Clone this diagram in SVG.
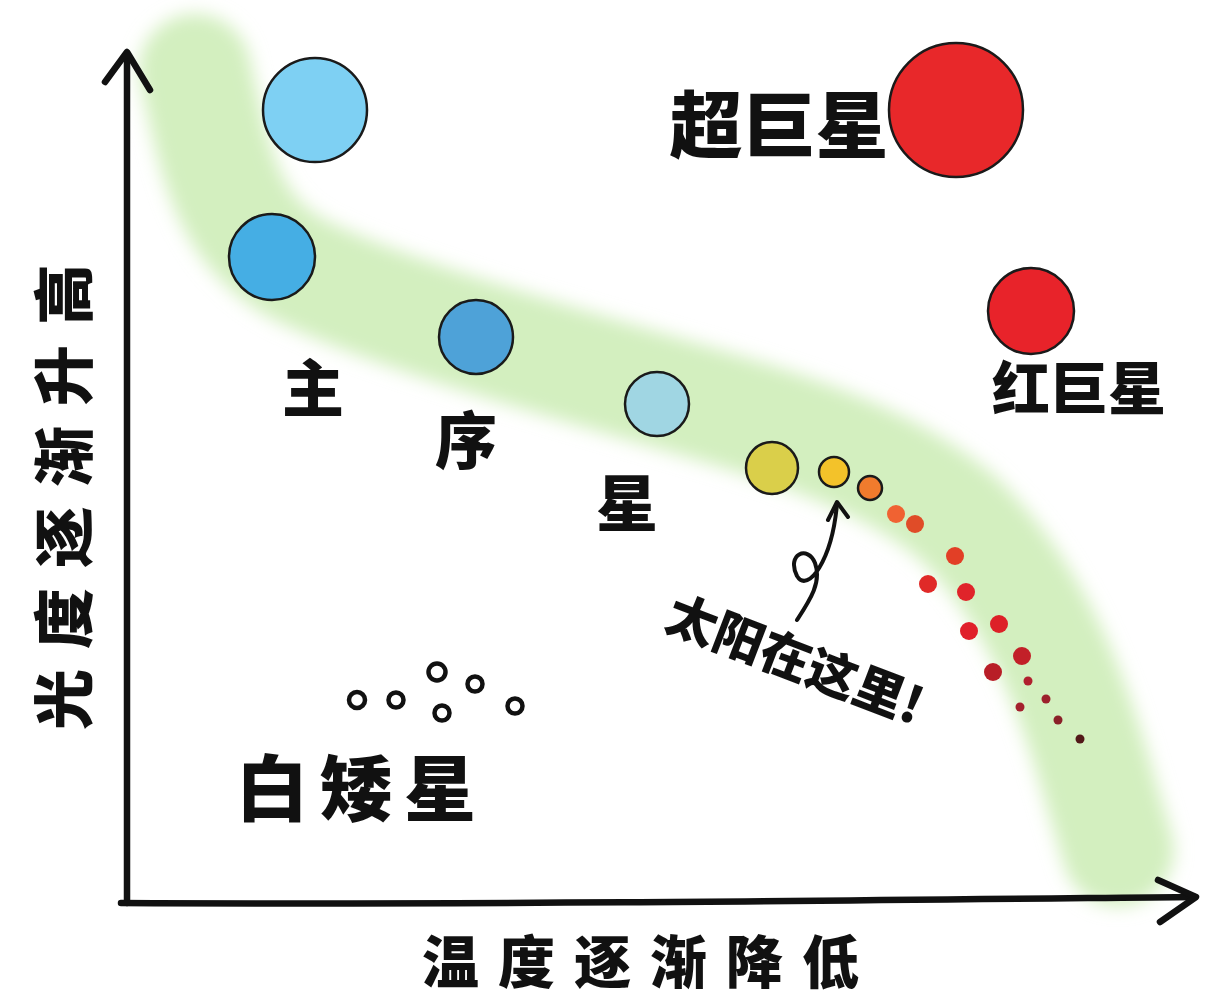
<svg xmlns="http://www.w3.org/2000/svg" width="1229" height="1008" viewBox="0 0 1229 1008">
<style>
.lbl{font-family:"Noto Sans CJK SC","Noto Sans CJK JP",sans-serif;font-weight:900;fill:#111}
.star{stroke:#1a1a1a;stroke-width:2.5}
.wd{fill:none;stroke:#111;stroke-width:4.5}
.ax{fill:none;stroke:#111;stroke-width:6.5;stroke-linecap:round;stroke-linejoin:round}
</style>
<defs>
<filter id="blur" x="-20%" y="-20%" width="140%" height="140%"><feGaussianBlur stdDeviation="9"/></filter>
</defs>
<rect width="1229" height="1008" fill="#fff"/>
<g id="band">
<path d="M195,70 C215,160 225,230 300,270 C380,310 520,350 640,385 C760,420 880,450 960,520 C1040,600 1075,700 1100,790 L1118,850" fill="none" stroke="#d3efbf" stroke-width="112" stroke-linecap="round" filter="url(#blur)"/>
</g>
<g id="connectors">
<path class="ax" d="M127,903 C126,700 128,400 127,54"/>
<path class="ax" d="M105,82 L127,52 L150,90"/>
<path class="ax" d="M121,903 C500,905 900,900 1195,897"/>
<path class="ax" d="M1158,880 L1196,897 L1160,922"/>
<path d="M797,620 C810,600 822,582 815,563 C808,545 786,554 797,576 C808,594 832,560 837,504" fill="none" stroke="#111" stroke-width="4" stroke-linecap="round"/>
<path d="M828,520 L837,502 L848,517" fill="none" stroke="#111" stroke-width="4" stroke-linecap="round" stroke-linejoin="round"/>
</g>
<g id="main-sequence-stars">
<circle class="star" cx="315" cy="110" r="52" fill="#7ed0f3"/>
<circle class="star" cx="272" cy="257" r="43" fill="#45aee4"/>
<circle class="star" cx="476" cy="337" r="37" fill="#4ea2d8"/>
<circle class="star" cx="657" cy="404" r="32" fill="#a0d6e3"/>
<circle class="star" cx="772" cy="468" r="26" fill="#dacf4a"/>
<circle id="sun" class="star" cx="834" cy="472" r="15" fill="#f3c22a"/>
<circle class="star" cx="870" cy="488" r="12" fill="#f07b2d" stroke-width="2"/>
<circle cx="896" cy="514" r="9" fill="#f06232"/>
<circle cx="915" cy="524" r="9" fill="#e04c28"/>
<circle cx="955" cy="556" r="9" fill="#e23f26"/>
<circle cx="928" cy="584" r="9" fill="#e02a28"/>
<circle cx="966" cy="592" r="9" fill="#e0242a"/>
<circle cx="969" cy="631" r="9" fill="#e0202a"/>
<circle cx="999" cy="624" r="9" fill="#dd2027"/>
<circle cx="1022" cy="656" r="9" fill="#c22028"/>
<circle cx="993" cy="672" r="9" fill="#b81e27"/>
<circle cx="1028" cy="681" r="4.5" fill="#b0202e"/>
<circle cx="1020" cy="707" r="4.5" fill="#a4202e"/>
<circle cx="1046" cy="699" r="4.5" fill="#9c202c"/>
<circle cx="1058" cy="720" r="4.5" fill="#8a2028"/>
<circle cx="1080" cy="739" r="4.5" fill="#521818"/>
</g>
<g id="supergiant">
<circle class="star" cx="956" cy="110" r="67" fill="#e8282a"/>
<text class="lbl" x="779" y="152" font-size="73" text-anchor="middle">超巨星</text>
</g>
<g id="red-giant">
<circle class="star" cx="1031" cy="311" r="43" fill="#e8232a"/>
<text class="lbl" x="1079" y="410" font-size="58" text-anchor="middle">红巨星</text>
</g>
<g id="main-sequence-label">
<text class="lbl" x="313" y="412" font-size="62" text-anchor="middle">主</text>
<text class="lbl" x="466" y="464" font-size="62" text-anchor="middle">序</text>
<text class="lbl" x="627" y="527" font-size="62" text-anchor="middle">星</text>
</g>
<g id="white-dwarfs">
<circle class="wd" cx="357" cy="700" r="8"/>
<circle class="wd" cx="396" cy="700" r="7.5"/>
<circle class="wd" cx="437" cy="672" r="8.5"/>
<circle class="wd" cx="475" cy="684" r="7.5"/>
<circle class="wd" cx="442" cy="713" r="7.5"/>
<circle class="wd" cx="515" cy="706" r="7.5"/>
<text class="lbl" x="362" y="815" font-size="72" letter-spacing="12" text-anchor="middle">白矮星</text>
</g>
<g id="sun-label">
<text class="lbl" x="795" y="678" font-size="50" text-anchor="middle" transform="rotate(21 795 660)">太阳在这里!</text>
</g>
<g id="x-label">
<text class="lbl" x="650" y="983" font-size="57" letter-spacing="19" text-anchor="middle">温度逐渐降低</text>
</g>
<g id="y-label">
<text class="lbl" x="65" y="509" font-size="61" letter-spacing="20" text-anchor="middle" transform="rotate(-90 65 487)">光度逐渐升高</text>
</g>
</svg>
